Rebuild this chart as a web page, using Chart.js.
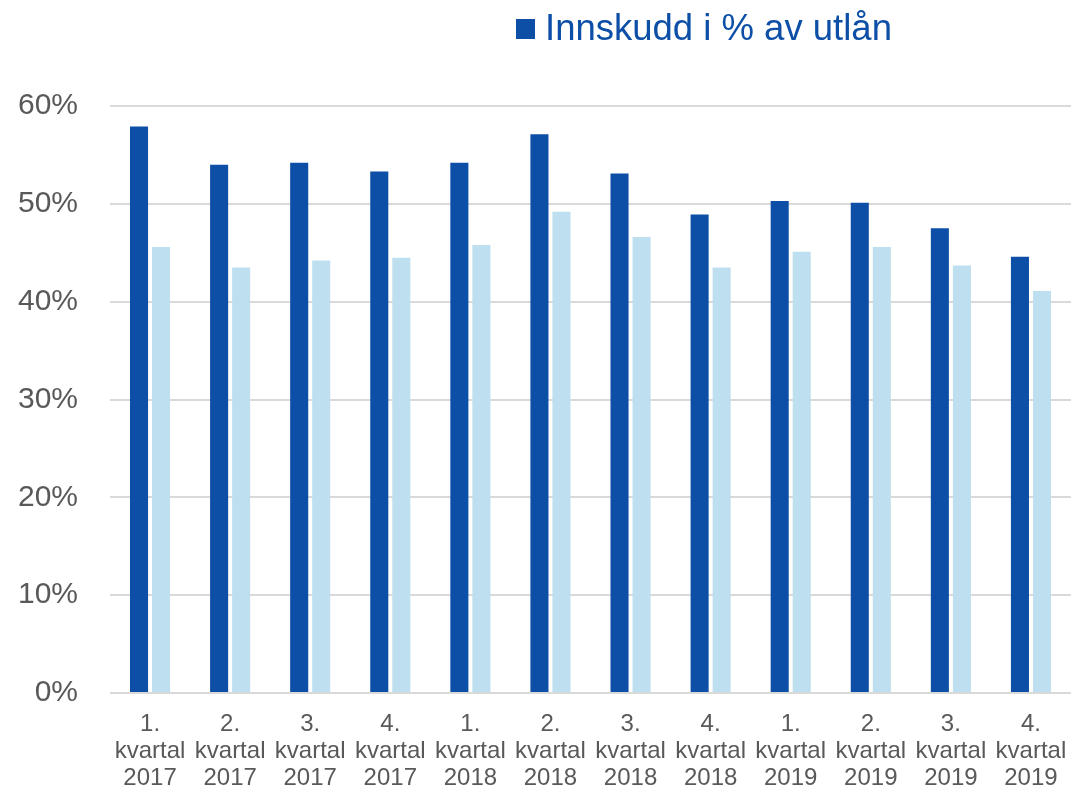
<!DOCTYPE html>
<html>
<head>
<meta charset="utf-8">
<script src="https://cdn.jsdelivr.net/npm/chart.js@4/dist/chart.umd.min.js"></script>
<style>
  body { margin: 0; background: #fff; font-family: Arial, 'Liberation Sans', sans-serif; }
  #wrap { position: relative; width: 1071px; height: 787px; }
  #legend { position: absolute; left: 516px; top: 8px; color: #0D4FA6; font-size: 36.5px; line-height: 40px; white-space: nowrap; }
  #legend span.box { display: inline-block; width: 19px; height: 20px; background: #0D4FA6; margin-right: 10px; vertical-align: 1px; }
</style>
</head>
<body>
<div id="wrap">
  <div id="legend"><span class="box"></span>Innskudd i % av utlån</div>
  <canvas id="chart"></canvas>
</div>
<script>
'use strict';

// quarters on the x axis
let quarters = ['1.', '2.', '3.', '4.', '1.', '2.', '3.', '4.', '1.', '2.', '3.', '4.'];
let years = ['2017', '2017', '2017', '2017', '2018', '2018', '2018', '2018', '2019', '2019', '2019', '2019'];

// Innskudd i % av utlån
let depositShare = [57.9, 54.0, 54.2, 53.3, 54.2, 57.1, 53.1, 48.9, 50.3, 50.1, 47.5, 44.6];
// second series (no legend entry in the original)
let secondSeries = [45.6, 43.5, 44.2, 44.5, 45.8, 49.2, 46.6, 43.5, 45.1, 45.6, 43.7, 41.1];

let yTicks = [0, 10, 20, 30, 40, 50, 60];

let chartLabels = [];
for (let i = 0; i < quarters.length; i++) {
  chartLabels.push([quarters[i], 'kvartal', years[i]]);
}

let canvasElem = document.getElementById('chart');

let chartConfig = {
  type: 'bar',
  data: {
    labels: chartLabels,
    datasets: [
      {
        label: 'Innskudd i % av utlån',
        data: depositShare,
        backgroundColor: '#0D4FA6',
        categoryPercentage: 0.55,
        barPercentage: 0.82
      },
      {
        label: '',
        data: secondSeries,
        backgroundColor: '#BDDFF0',
        categoryPercentage: 0.55,
        barPercentage: 0.82
      }
    ]
  },
  options: {
    responsive: true,
    maintainAspectRatio: false,
    animation: false,
    layout: {
      padding: { top: 106, left: 18, right: 0, bottom: 0 }
    },
    plugins: {
      legend: { display: false },
      tooltip: { enabled: false }
    },
    scales: {
      y: {
        min: 0,
        max: 60,
        afterBuildTicks: function (axis) {
          axis.ticks = yTicks.map(function (v) { return { value: v }; });
        },
        afterFit: function (axis) { axis.width = 92; },
        border: { display: false },
        grid: { color: '#d9d9d9', lineWidth: 2, drawTicks: false },
        ticks: {
          padding: 32,
          color: '#595959',
          font: { family: 'Arial, Liberation Sans, sans-serif', size: 30 },
          callback: function (v) { return v + '%'; }
        }
      },
      x: {
        afterFit: function (axis) {
          axis.height = 94;
          axis.paddingLeft = 0;
          axis.paddingRight = 0;
        },
        border: { display: false },
        grid: { display: false },
        ticks: {
          padding: 10,
          color: '#595959',
          maxRotation: 0,
          autoSkip: false,
          font: { family: 'Arial, Liberation Sans, sans-serif', size: 24, lineHeight: 1.12 }
        }
      }
    }
  }
};

new Chart(canvasElem, chartConfig);
</script>
</body>
</html>
